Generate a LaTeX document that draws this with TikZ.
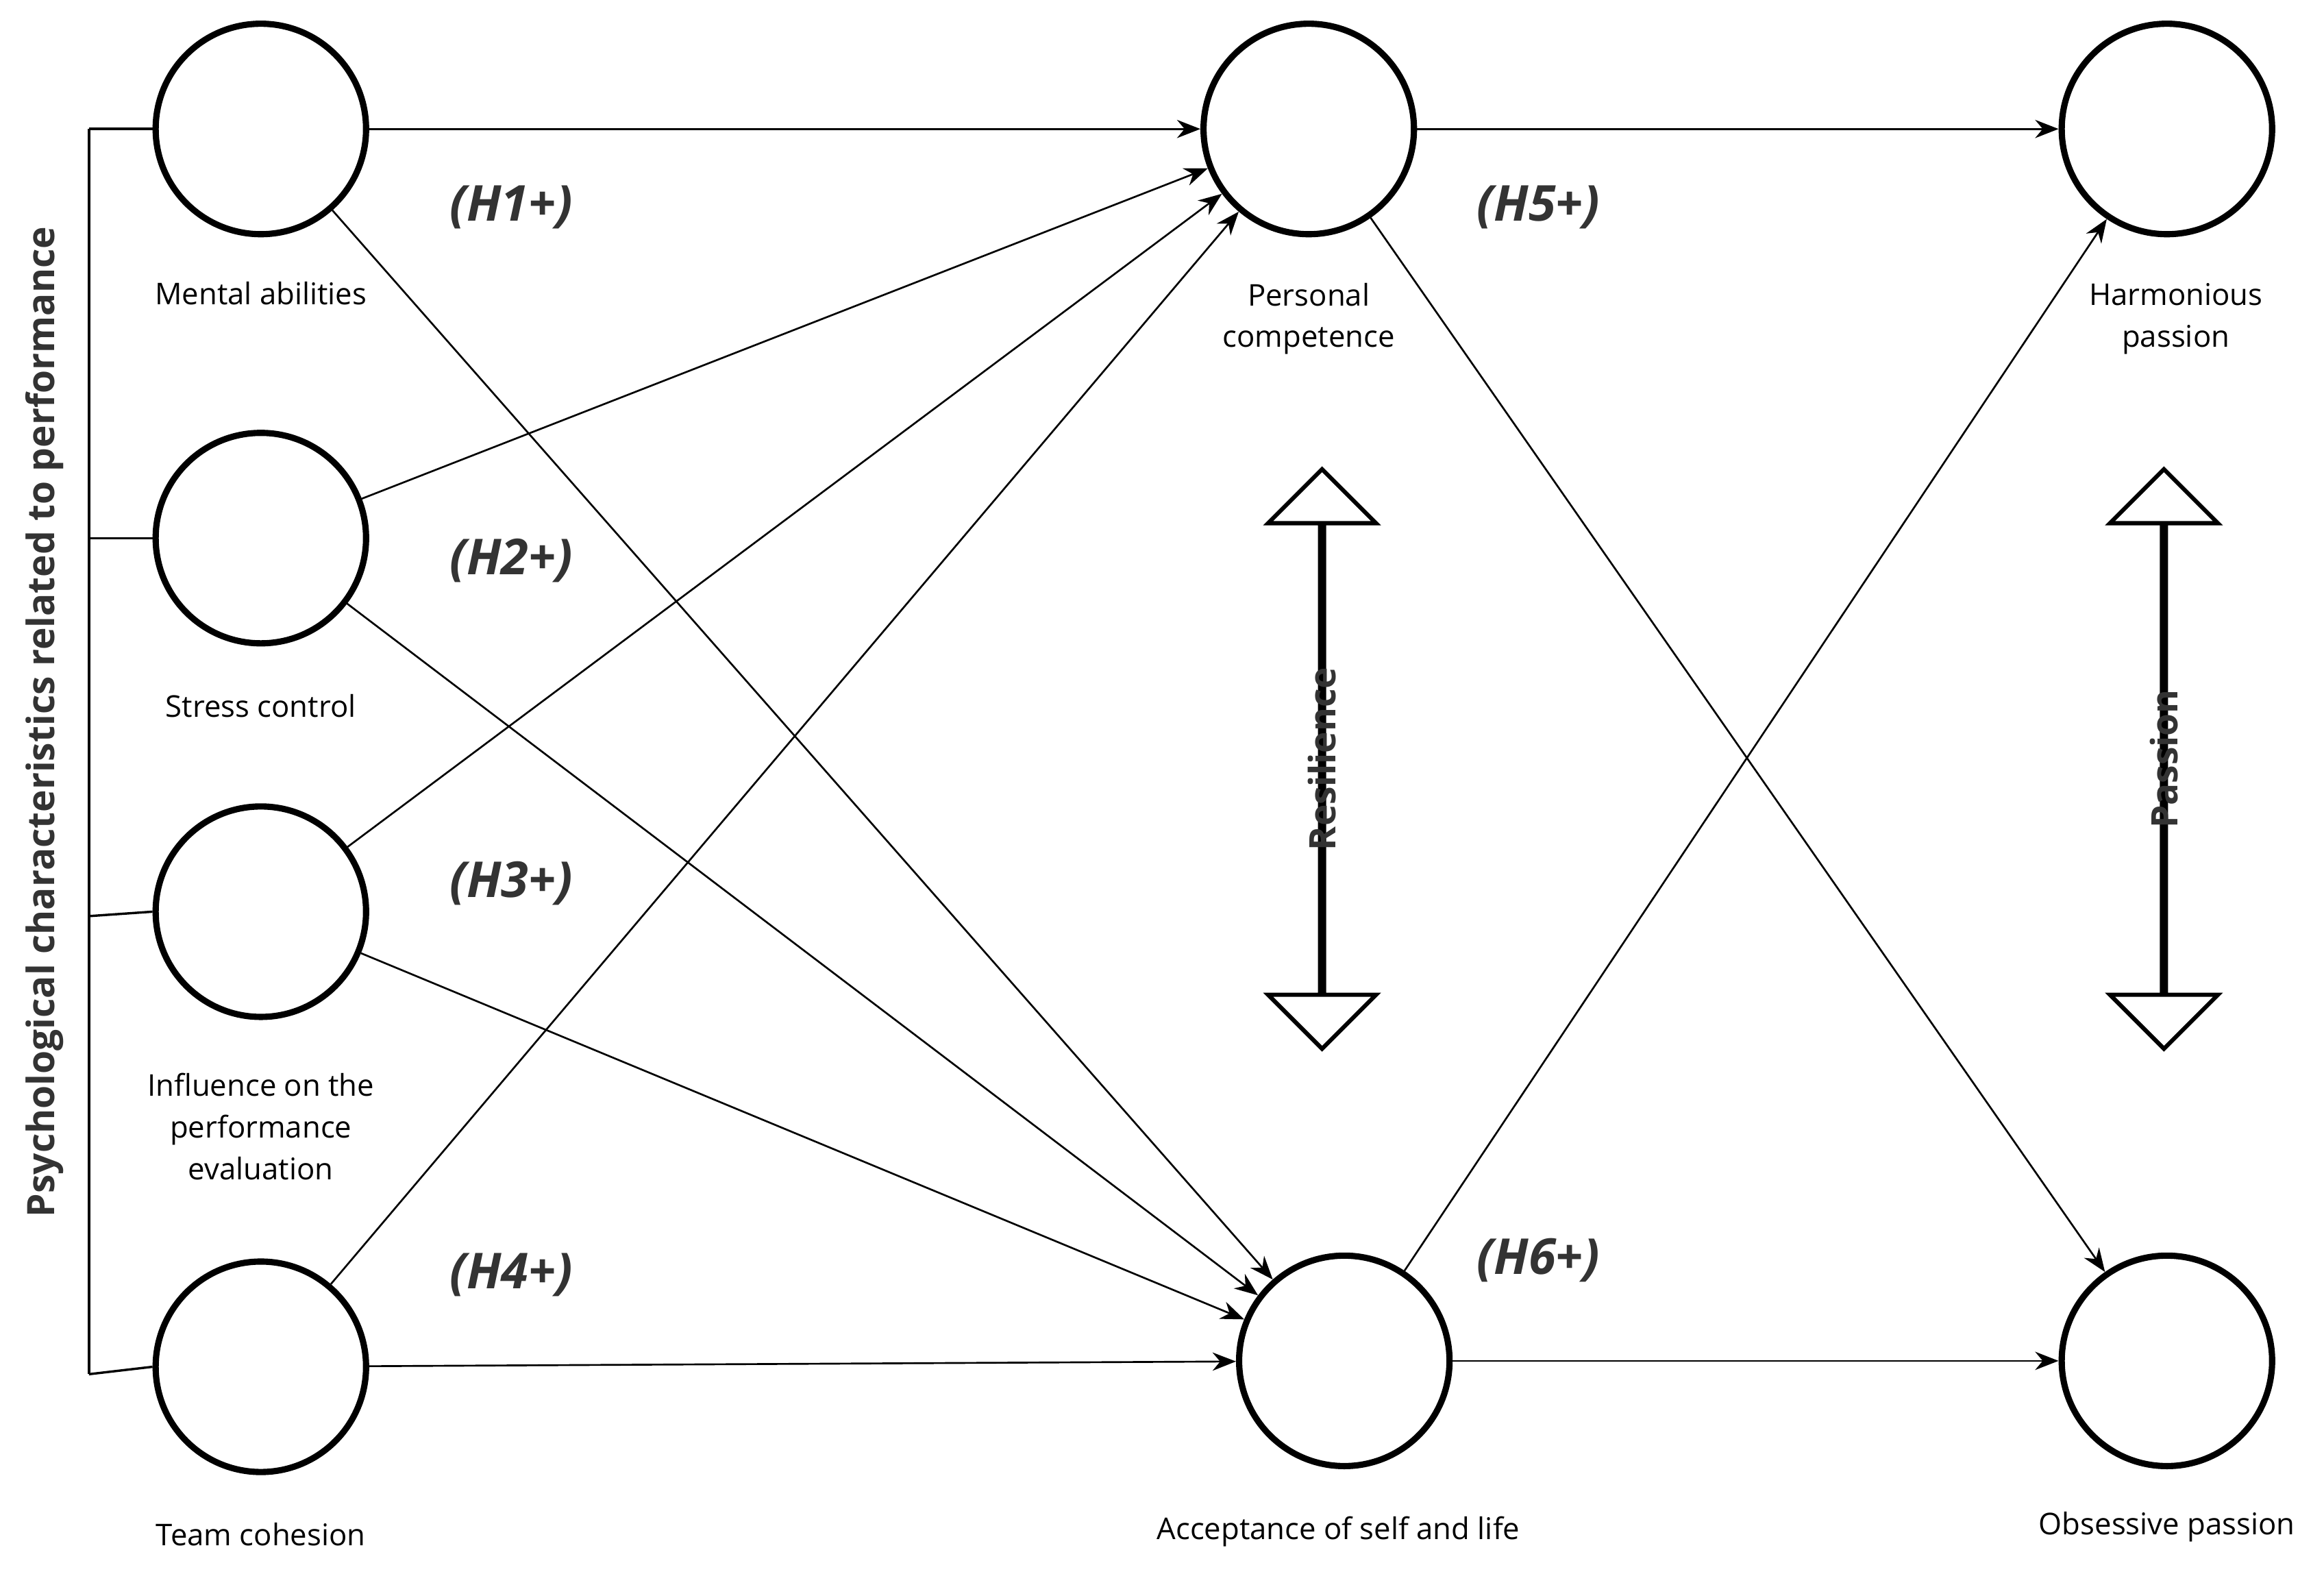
\documentclass[tikz,border=0pt]{standalone}
\usepackage{fontspec}
\setmainfont{Open Sans}
\usetikzlibrary{arrows.meta,shapes.arrows}
\begin{document}
\begin{tikzpicture}[x=0.02cm,y=-0.02cm,
  lat/.style={circle,draw,line width=2.4pt,minimum size=2.84cm,inner sep=0pt},
  lab/.style={align=center,font=\fontsize{11.5}{16}\selectfont},
  hyp/.style={font=\fontsize{19}{22}\selectfont\bfseries\itshape,text=black!80},
  arr/.style={-{Stealth[length=9pt,width=7pt]},line width=0.7pt},
  dbl/.style={draw,line width=1.6pt,fill=white,double arrow,double arrow head extend=0.7cm,minimum height=7.82cm,minimum width=1.4cm,rotate=90,inner sep=0pt}]
\useasboundingbox (0,0) rectangle (1568,1060);
\node[lat] (ma) at (176,87) {};
\node[lat] (sc) at (176,363) {};
\node[lat] (ip) at (176,615) {};
\node[lat] (tc) at (176,922) {};
\node[lat] (pc) at (883,87) {};
\node[lat] (as) at (907,918) {};
\node[lat] (hp) at (1462,87) {};
\node[lat] (op) at (1462,918) {};
\node[lab] at (176,198) {Mental abilities};
\node[lab] at (176,476) {Stress control};
\node[lab] at (176,760) {Influence on the\\performance\\evaluation};
\node[lab] at (176,1035) {Team cohesion};
\node[lab] at (883,215) {Personal\\competence};
\node[lab] at (903,1033) {Acceptance of self and life};
\node[lab] at (1468,215) {Harmonious\\passion};
\node[lab] at (1462,1030) {Obsessive passion};
\node[hyp] at (345,140) {(H1+)};
\node[hyp] at (345,378) {(H2+)};
\node[hyp] at (345,596) {(H3+)};
\node[hyp] at (345,860) {(H4+)};
\node[hyp] at (1038,140) {(H5+)};
\node[hyp] at (1038,850) {(H6+)};
\node[rotate=90,font=\fontsize{14.5}{16}\selectfont\bfseries,text=black!80] (title) at (30,487) {Psychological characteristics related to performance};
\coordinate (b1) at (60,87); \coordinate (b4) at (60,927);
\draw[line width=0.9pt] (b1) -- (b4);
\draw[line width=0.9pt] (b1) -- (ma.west);
\draw[line width=0.9pt] (60,363) -- (sc.west);
\draw[line width=0.9pt] (60,618) -- (ip.west);
\draw[line width=0.9pt] (b4) -- (tc.west);
\node[dbl] (res) at (892,512) {};
\node[dbl] (pas) at (1460,512) {};
\node[rotate=90,font=\fontsize{14}{16}\selectfont\bfseries,text=black!80] at (res) {Resilience};
\node[rotate=90,font=\fontsize{14}{16}\selectfont\bfseries,text=black!80] at (pas) {Passion};
\foreach \s in {ma,sc,ip,tc}{
  \draw[arr] (\s) -- (pc);
  \draw[arr] (\s) -- (as);}
\draw[arr] (pc) -- (hp);
\draw[arr] (pc) -- (op);
\draw[arr] (as) -- (hp);
\draw[arr] (as) -- (op);
\end{tikzpicture}
\end{document}
